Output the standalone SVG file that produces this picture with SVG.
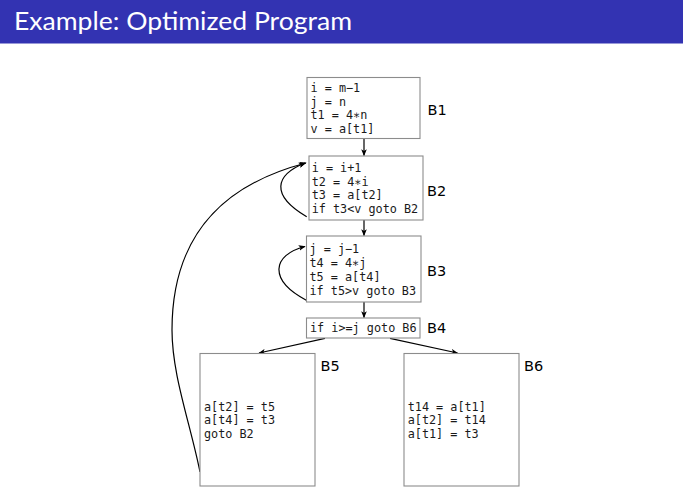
<svg xmlns="http://www.w3.org/2000/svg" width="683" height="492" viewBox="0 0 683 492">
<style>
.box{fill:#fff;stroke:#8c8c8c;stroke-width:1.1}
.code{font-family:"DejaVu Sans Mono",monospace;font-size:11.8px;fill:#1a1a1a}
.lbl{font-family:"DejaVu Sans",sans-serif;font-size:14.5px;fill:#000}
.edge{fill:none;stroke:#000;stroke-width:1.2;marker-end:url(#ah)}
</style>
<defs>
<marker id="ah" viewBox="0 0 10 8" refX="9" refY="4" markerWidth="7" markerHeight="6" markerUnits="userSpaceOnUse" orient="auto">
<path d="M0,0 L10,4 L0,8 L2.5,4 z" fill="#000"/>
</marker>
</defs>
<rect x="0" y="0" width="683" height="492" fill="#fff"/>
<g id="title">
<rect x="0" y="0" width="683" height="43.5" fill="#3333B2"/>
<text x="14" y="29.5" font-family="Lato,'DejaVu Sans',sans-serif" font-size="25" fill="#fff" textLength="338" lengthAdjust="spacingAndGlyphs">Example: Optimized Program</text>
</g>
<g id="connectors">
<line class="edge" x1="364" y1="138.5" x2="364" y2="155.5"/>
<line class="edge" x1="364" y1="220" x2="364" y2="235.5"/>
<line class="edge" x1="364" y1="302" x2="364" y2="317.5"/>
<line class="edge" x1="325" y1="338.3" x2="259" y2="353"/>
<line class="edge" x1="390" y1="338.3" x2="457.5" y2="353"/>
<path class="edge" d="M306.7,216.7 C270,195 275,175 305,163"/>
<path class="edge" d="M306.7,300.5 C268,280 272,255 305,246.5"/>
<path class="edge" d="M200,472 C190.2,423 172,375 172,330 C172,230 228.6,183.2 306,163"/>
</g>
<g id="B1">
<rect class="box" x="307" y="77.5" width="113" height="61"/>
<text class="code" x="310.5" y="91.7">i = m−1</text>
<text class="code" x="310.5" y="105.5">j = n</text>
<text class="code" x="310.5" y="119.3">t1 = 4∗n</text>
<text class="code" x="310.5" y="133.2">v = a[t1]</text>
<text class="lbl" x="427.5" y="115.3">B1</text>
</g>
<g id="B2">
<rect class="box" x="309" y="156" width="114" height="64"/>
<text class="code" x="311.7" y="171.7">i = i+1</text>
<text class="code" x="311.7" y="185.6">t2 = 4∗i</text>
<text class="code" x="311.7" y="199.4">t3 = a[t2]</text>
<text class="code" x="311.7" y="213.3">if t3&lt;v goto B2</text>
<text class="lbl" x="427" y="196">B2</text>
</g>
<g id="B3">
<rect class="box" x="306.5" y="236" width="114.5" height="66"/>
<text class="code" x="309.5" y="253.3">j = j−1</text>
<text class="code" x="309.5" y="267.3">t4 = 4∗j</text>
<text class="code" x="309.5" y="281.4">t5 = a[t4]</text>
<text class="code" x="309.5" y="295.2">if t5&gt;v goto B3</text>
<text class="lbl" x="427" y="275.7">B3</text>
</g>
<g id="B4">
<rect class="box" x="306.5" y="318" width="113.5" height="20"/>
<text class="code" x="310" y="332.3">if i&gt;=j goto B6</text>
<text class="lbl" x="427" y="332.7">B4</text>
</g>
<g id="B5">
<rect class="box" x="200" y="353.5" width="115" height="132.5"/>
<text class="code" x="204" y="410.7">a[t2] = t5</text>
<text class="code" x="204" y="424.3">a[t4] = t3</text>
<text class="code" x="204" y="437.9">goto B2</text>
<text class="lbl" x="320.5" y="370.7">B5</text>
</g>
<g id="B6">
<rect class="box" x="404" y="353.5" width="115" height="132.5"/>
<text class="code" x="407.7" y="410.7">t14 = a[t1]</text>
<text class="code" x="407.7" y="424.3">a[t2] = t14</text>
<text class="code" x="407.7" y="437.9">a[t1] = t3</text>
<text class="lbl" x="524" y="370.7">B6</text>
</g>
</svg>
